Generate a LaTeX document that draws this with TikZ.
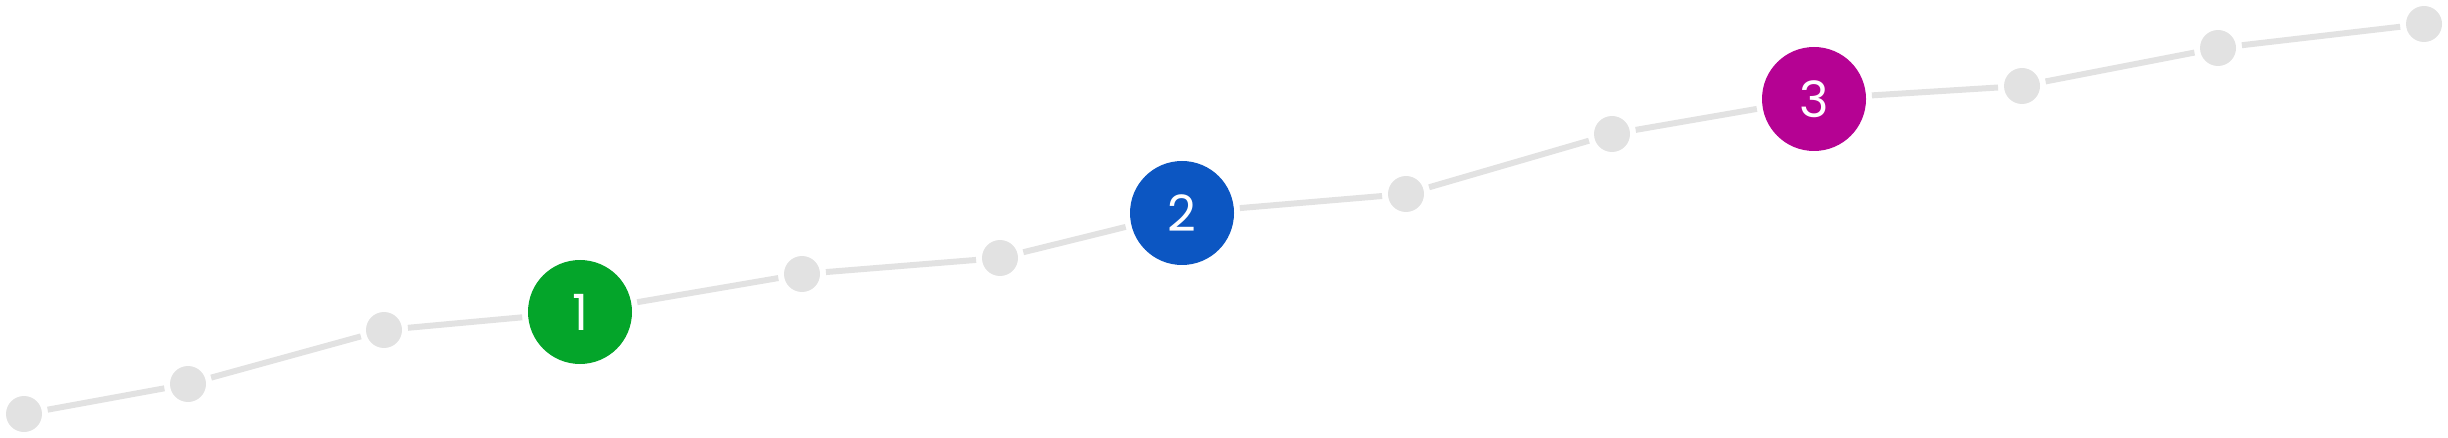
\documentclass[tikz,border=0pt]{standalone}
\usepackage{fontspec}
\setmainfont{Poppins}
\definecolor{dotgrey}{HTML}{E2E2E2}
\definecolor{stagegreen}{HTML}{04A52A}
\definecolor{stageblue}{HTML}{0C56C2}
\definecolor{stagemagenta}{HTML}{B50293}
\newcommand{\stagenum}[1]{\fontsize{50}{56}\selectfont #1}

\begin{document}
\begin{tikzpicture}[x=1pt,y=-1pt]
    \tikzstyle{dot}=[circle, fill=dotgrey, minimum size=36pt, inner sep=0pt, outer sep=6pt]
    \tikzstyle{stage}=[circle, minimum size=104pt, inner sep=0pt, outer sep=6pt, text=white]
    \tikzstyle{link}=[line width=6pt, dotgrey]
    \useasboundingbox (0,0) rectangle (2448,438);
    \node [dot] (p1) at (24,414) {};
    \node [dot] (p2) at (188,384) {};
    \node [dot] (p3) at (384,330) {};
    \node [stage, fill=stagegreen] (s1) at (580,312) {\stagenum{1}};
    \node [dot] (p4) at (802,274) {};
    \node [dot] (p5) at (1000,258) {};
    \node [stage, fill=stageblue] (s2) at (1182,213) {\stagenum{2}};
    \node [dot] (p6) at (1406,194) {};
    \node [dot] (p7) at (1612,134) {};
    \node [stage, fill=stagemagenta] (s3) at (1814,99) {\stagenum{3}};
    \node [dot] (p8) at (2022,86) {};
    \node [dot] (p9) at (2218,48) {};
    \node [dot] (p10) at (2424,24) {};
    \foreach \u/\v in {p1/p2, p2/p3, p3/s1, s1/p4, p4/p5, p5/s2, s2/p6, p6/p7, p7/s3, s3/p8, p8/p9, p9/p10}
        \draw [link] (\u) -- (\v);
\end{tikzpicture}
\end{document}
